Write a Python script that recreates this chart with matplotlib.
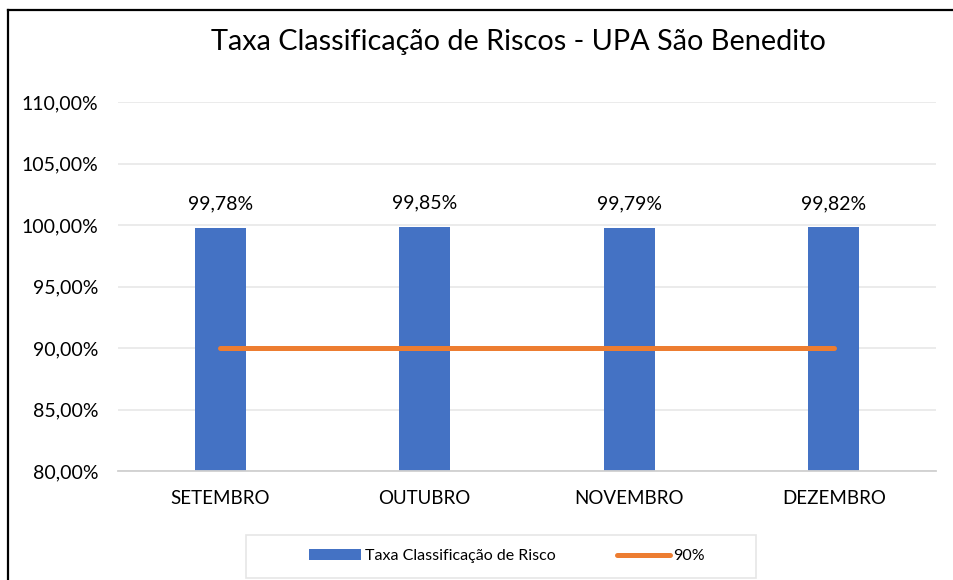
import matplotlib
matplotlib.use("Agg")
import matplotlib.pyplot as plt
from matplotlib.lines import Line2D
from matplotlib.patches import Patch, Rectangle

categories = ["SETEMBRO", "OUTUBRO", "NOVEMBRO", "DEZEMBRO"]
values = [0.9978, 0.9985, 0.9979, 0.9982]
target = [0.90, 0.90, 0.90, 0.90]
yticks = [0.80, 0.85, 0.90, 0.95, 1.00, 1.05, 1.10]
title = "Taxa Classificação de Riscos - UPA São Benedito"
bar_label = "Taxa Classificação de Risco"
line_label = "90%"

plt.rcParams['font.family'] = ['Lato', 'DejaVu Sans']

fig = plt.figure(figsize=(9.54, 5.8), dpi=100)
ax = fig.add_axes([118/954, 1-471/580, (936-118)/954, (471-102)/580])

x = list(range(len(categories)))
blue = "#4472C4"
orange = "#ED7D31"
ax.bar(x, values, width=0.25, color=blue, zorder=3)
ax.plot(x, target, color=orange, linewidth=3.6, solid_capstyle='round', zorder=4)

for xi, v in zip(x, values):
    ax.annotate(f"{v*100:.2f}%".replace(".", ","), (xi, v), xytext=(0, 11),
                textcoords="offset points", ha="center", va="bottom",
                fontsize=14, color="#000000")

ax.set_xlim(-0.5, len(categories) - 0.5)
ax.set_ylim(0.80, 1.10)
ax.set_yticks(yticks)
ax.set_yticklabels([f"{t*100:.2f}%".replace(".", ",") for t in yticks], fontsize=14)
ax.set_xticks(x)
ax.set_xticklabels(categories, fontsize=13.5)
ax.tick_params(axis='x', length=0, pad=14)
ax.tick_params(axis='y', length=0, pad=14)
ax.grid(axis='y', color="#E8E8E8", linewidth=1.2, zorder=0)
for s in ["top", "right", "left"]:
    ax.spines[s].set_visible(False)
ax.spines["bottom"].set_color("#D0D0D0")
ax.spines["bottom"].set_linewidth(1.3)
ax.spines["bottom"].set_zorder(5)

fig.text(518/954, 1-42/580, title, ha="center", va="center", fontsize=20.8)

# legend frame
fig.add_artist(Rectangle((246/954, 1-578/580), (756-246)/954, (578-535)/580,
                         transform=fig.transFigure, facecolor="white",
                         edgecolor="#E6E6E6", linewidth=1.2))
handles = [Patch(facecolor=blue, edgecolor="none"),
           Line2D([0], [0], color=orange, linewidth=3.6, solid_capstyle='round')]
leg = fig.legend(handles, [bar_label, line_label], loc="center",
                 bbox_to_anchor=(507/954, 1-556/580), ncol=2, fontsize=11.5,
                 frameon=False, handlelength=3.3, handleheight=0.7, columnspacing=3.8,
                 handletextpad=0.25)

# top and left border of the chart area
fig.add_artist(Line2D([8/954, 1.0], [1-10/580, 1-10/580], color="black", linewidth=1.6,
                      transform=fig.transFigure))
fig.add_artist(Line2D([8/954, 8/954], [0, 1-10/580], color="black", linewidth=1.6,
                      transform=fig.transFigure))

fig.savefig("out.png", dpi=100, facecolor="white")
